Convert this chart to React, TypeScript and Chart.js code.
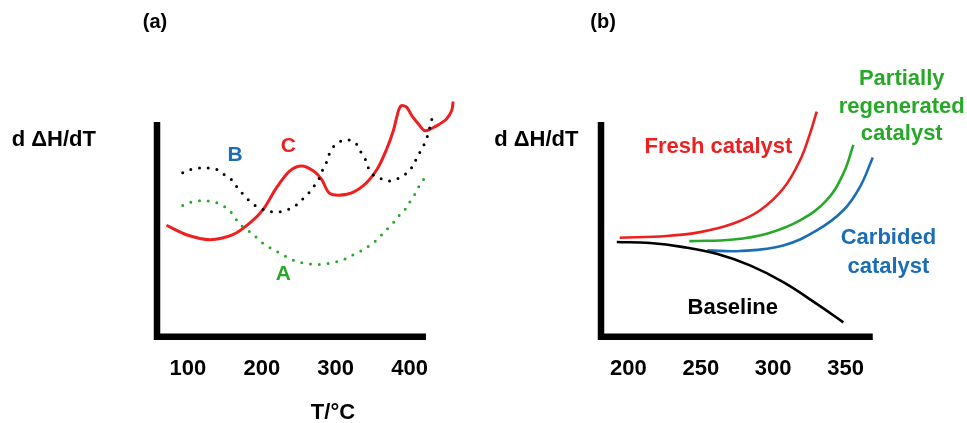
import React, { useEffect, useRef } from 'react';
import { Chart, registerables } from 'chart.js';

Chart.register(...registerables);

const FONT = "'Liberation Sans', Arial, Helvetica, sans-serif";
const RED = '#ee1f1f';
const GREEN = '#28a828';
const BLUE = '#1b6db6';
const BLACK = '#000000';

// ---------- Panel (a): d dH/dT vs T (°C), arbitrary units ----------
const ticksA = [100, 200, 300, 400];

const curveATemps = [93, 105, 116, 129, 141, 152, 161, 168, 177, 186, 195, 204, 216, 226, 237, 249, 261, 273, 285, 297, 308, 319, 331, 342, 351, 360, 369, 377, 385, 394, 401, 407, 413, 420];
const curveAValues = [61.1, 62.7, 63.3, 63.1, 62.1, 60, 56.9, 53.3, 50.5, 48.3, 45.5, 42.9, 40.5, 38.6, 36.6, 34.8, 34.1, 33.6, 33.8, 34.6, 35.4, 37.4, 39.3, 41.6, 43.7, 46.7, 49.9, 52.7, 56.1, 59.3, 63.1, 66.3, 70.2, 73.8];

const curveBTemps = [93, 105, 116, 129, 140, 152, 161, 168, 177, 186, 197, 209, 220, 231, 243, 252, 262, 269, 277, 281, 287, 294, 304, 315, 326, 333, 340, 344, 350, 361, 373, 384, 394, 403, 409, 415, 421, 425, 428, 431];
const curveBValues = [76.4, 78, 78.6, 78.5, 77.7, 74.8, 72.5, 68.9, 65.5, 62.4, 60, 58.5, 58, 58.8, 60.3, 63.1, 66.3, 69.4, 73.3, 76.7, 80.8, 87, 90.5, 91.7, 90.5, 86.6, 82.7, 78.8, 75.6, 73.6, 72.5, 73.6, 75.6, 78.8, 82.7, 86.6, 90.5, 94.4, 98.3, 102.5];

const curveCTemps = [71, 98, 130, 161, 184, 202, 220, 238, 254, 270, 281, 292, 315, 337, 356, 369, 378, 385, 389, 396, 403, 412, 421, 437, 450, 457, 459];
const curveCValues = [51.9, 47.5, 45.2, 47.5, 53, 59.3, 69.4, 77.2, 79.5, 77.2, 73.3, 66.7, 66.3, 70.2, 78, 87.4, 95.9, 105.3, 107.6, 106.9, 103, 99.1, 95.9, 98.3, 101.4, 105.3, 109.5];

// ---------- Panel (b) ----------
const ticksB = [200, 250, 300, 350];

const freshTemps = [194, 226.5, 249.5, 272.5, 291, 307, 318.6, 325.5, 330.1];
const freshValues = [46.1, 46.9, 48.7, 52.7, 58.9, 69, 82.2, 94.7, 104.8];

const partialTemps = [242.1, 272.5, 295.6, 318.6, 337, 348.5, 355.4];
const partialValues = [44.5, 45.3, 48, 54.2, 63.6, 76, 89.3];

const carbidedTemps = [254.6, 277.1, 307, 330.1, 348.5, 360, 368.8];
const carbidedValues = [40.2, 39.9, 42.5, 49.5, 58.9, 69.8, 83.5];

const baselineTemps = [192, 215, 238, 261, 284, 307, 330.1, 348.5];
const baselineValues = [44.1, 43.6, 41.7, 38.6, 33.2, 25.4, 15.3, 6.7];

type Txt = { text: string; x: number; y: number; color: string; size: number; align?: CanvasTextAlign };

function pts(xs: number[], ys: number[]) {
  return xs.map((x, i) => ({ x, y: ys[i] }));
}

function solid(data: any, color: string, width: number, tension = 0.4) {
  return {
    data,
    borderColor: color,
    borderWidth: width,
    pointRadius: 0,
    fill: false,
    tension,
  };
}

function dotted(data: any, color: string) {
  return {
    data,
    borderColor: color,
    borderWidth: 3,
    borderDash: [0, 8.8],
    borderCapStyle: 'round',
    pointRadius: 0,
    fill: false,
    tension: 0.4,
  };
}

type PanelCfg = {
  xMin: number;
  xMax: number;
  axisEnd: number;
  ticks: number[];
  datasets: any[];
  texts: Txt[];
  padLeft: number;
  padRight: number;
};

function makeChart(canvas: HTMLCanvasElement, cfg: PanelCfg) {
  const decor = {
    id: 'decor',
    afterDraw(chart: any) {
      const ctx = chart.ctx;
      const xs = chart.scales.x;
      const ys = chart.scales.y;
      ctx.save();
      // thick L-shaped axes
      ctx.strokeStyle = BLACK;
      ctx.lineWidth = 6.5;
      ctx.lineJoin = 'miter';
      ctx.lineCap = 'butt';
      ctx.beginPath();
      ctx.moveTo(xs.getPixelForValue(cfg.xMin), ys.getPixelForValue(100));
      ctx.lineTo(xs.getPixelForValue(cfg.xMin), ys.getPixelForValue(0));
      ctx.lineTo(xs.getPixelForValue(cfg.axisEnd), ys.getPixelForValue(0));
      ctx.stroke();
      // text labels
      ctx.textBaseline = 'middle';
      for (const t of cfg.texts) {
        ctx.font = `bold ${t.size}px ${FONT}`;
        ctx.fillStyle = t.color;
        ctx.textAlign = t.align || 'center';
        ctx.fillText(t.text, xs.getPixelForValue(t.x), ys.getPixelForValue(t.y));
      }
      ctx.restore();
    },
  };

  return new Chart(canvas, {
    type: 'line',
    data: { datasets: cfg.datasets },
    plugins: [decor],
    options: {
      animation: false,
      responsive: false,
      events: [],
      layout: { padding: { left: cfg.padLeft, right: cfg.padRight, top: 96.2, bottom: 0 } },
      plugins: { legend: { display: false }, tooltip: { enabled: false }, title: { display: false } },
      scales: {
        x: {
          type: 'linear',
          min: cfg.xMin,
          max: cfg.xMax,
          grid: { display: false, drawTicks: false },
          border: { display: false },
          afterBuildTicks: (scale: any) => {
            scale.ticks = cfg.ticks.map((v) => ({ value: v }));
          },
          afterFit: (scale: any) => {
            scale.height = 86.3;
          },
          ticks: {
            autoSkip: false,
            maxRotation: 0,
            minRotation: 0,
            padding: 21,
            color: BLACK,
            font: { family: FONT, size: 22, weight: 'bold', lineHeight: 1 },
          },
        },
        y: {
          type: 'linear',
          min: 0,
          max: 112,
          display: false,
        },
      },
    } as any,
  });
}

const panelA: PanelCfg = {
  xMin: 58.2,
  xMax: 462,
  axisEnd: 422.2,
  ticks: ticksA,
  padLeft: 157,
  padRight: 27.6,
  datasets: [
    dotted(pts(curveATemps, curveAValues), GREEN),
    dotted(pts(curveBTemps, curveBValues), BLACK),
    solid(pts(curveCTemps, curveCValues), RED, 3, 0.3),
  ],
  texts: [
    { text: '(a)', x: 55.5, y: 146.1, color: BLACK, size: 20 },
    { text: 'd \u0394H/dT', x: -138.4, y: 91.4, color: BLACK, size: 22, align: 'left' },
    { text: 'T/\u00B0C', x: 296.3, y: -35.3, color: BLACK, size: 22 },
    { text: 'B', x: 163.7, y: 84.6, color: BLUE, size: 21 },
    { text: 'C', x: 235.9, y: 88.6, color: RED, size: 21 },
    { text: 'A', x: 229.2, y: 29.2, color: GREEN, size: 21 },
  ],
};

const panelB: PanelCfg = {
  xMin: 181.1,
  xMax: 372,
  axisEnd: 368.8,
  ticks: ticksB,
  padLeft: 118,
  padRight: 89.6,
  datasets: [
    solid(pts(baselineTemps, baselineValues), BLACK, 2.6),
    solid(pts(freshTemps, freshValues), RED, 2.6),
    solid(pts(partialTemps, partialValues), GREEN, 2.6),
    solid(pts(carbidedTemps, carbidedValues), BLUE, 2.6),
  ],
  texts: [
    { text: '(b)', x: 182.5, y: 146.1, color: BLACK, size: 20 },
    { text: 'd \u0394H/dT', x: 107.3, y: 91.6, color: BLACK, size: 22, align: 'left' },
    { text: 'Fresh catalyst', x: 262.2, y: 88.2, color: RED, size: 22 },
    { text: 'Partially', x: 388.8, y: 119.9, color: GREEN, size: 22 },
    { text: 'regenerated', x: 388.8, y: 107.1, color: GREEN, size: 22 },
    { text: 'catalyst', x: 388.8, y: 94.4, color: GREEN, size: 22 },
    { text: 'Carbided', x: 379.6, y: 45.8, color: BLUE, size: 22 },
    { text: 'catalyst', x: 379.6, y: 32.6, color: BLUE, size: 22 },
    { text: 'Baseline', x: 272.1, y: 13.2, color: BLACK, size: 22 },
  ],
};

function Panel({ cfg, left, width }: { cfg: PanelCfg; left: number; width: number }) {
  const ref = useRef<HTMLCanvasElement | null>(null);
  useEffect(() => {
    if (!ref.current) return;
    const chart = makeChart(ref.current, cfg);
    return () => chart.destroy();
  }, [cfg]);
  return (
    <canvas
      ref={ref}
      width={width}
      height={423}
      style={{ position: 'absolute', left, top: 0, width, height: 423 }}
    />
  );
}

export default function App() {
  return (
    <div style={{ position: 'fixed', left: 0, top: 0, width: 967, height: 423, background: '#fff', overflow: 'hidden' }}>
      <Panel cfg={panelA} left={0} width={483} />
      <Panel cfg={panelB} left={483} width={484} />
    </div>
  );
}
